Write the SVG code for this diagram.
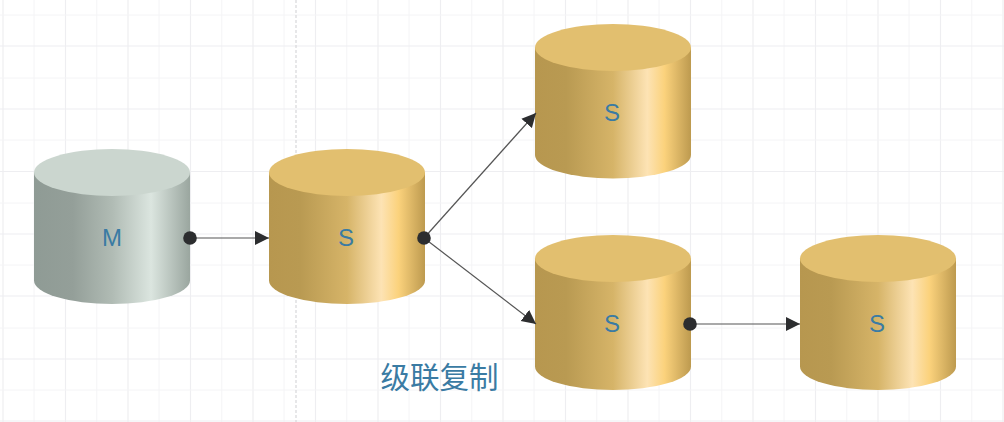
<svg xmlns="http://www.w3.org/2000/svg" width="1004" height="422" viewBox="0 0 1004 422">
<style>
.gm{stroke:#eeeef1;stroke-width:1.2;fill:none}
.gn{stroke:#f4f4f6;stroke-width:1;fill:none}
.lab{font-family:"Liberation Sans","Noto Sans CJK SC",sans-serif;font-size:24px;fill:#3a7ba3;text-anchor:middle}
.cap{font-family:"Noto Sans CJK SC","Liberation Sans",sans-serif;font-size:29.5px;fill:#3a7ba3;text-anchor:middle}
.link{stroke:#555555;stroke-width:1.2;fill:none;marker-end:url(#arr)}
.dot{fill:#2c2d2f}
.gold{fill:url(#goldSide)}
.goldTop{fill:#e2bf6f}
.grey{fill:url(#greySide)}
.greyTop{fill:#cbd6cf}
</style>
<defs>
<linearGradient id="goldSide" x1="0" x2="1" y1="0" y2="0">
<stop offset="0" stop-color="#b7974f"/><stop offset="0.2" stop-color="#b99a52"/><stop offset="0.5" stop-color="#d6b468"/><stop offset="0.72" stop-color="#fde3b4"/><stop offset="0.83" stop-color="#fbd27c"/><stop offset="1" stop-color="#bd9a4f"/>
</linearGradient>
<linearGradient id="greySide" x1="0" x2="1" y1="0" y2="0">
<stop offset="0" stop-color="#8f9b95"/><stop offset="0.25" stop-color="#949f99"/><stop offset="0.5" stop-color="#b0bbb4"/><stop offset="0.75" stop-color="#dbe5df"/><stop offset="1" stop-color="#9aa69f"/>
</linearGradient>
<marker id="arr" markerUnits="userSpaceOnUse" markerWidth="15" markerHeight="15" refX="14" refY="7.500" orient="auto">
<path d="M0 0.500L14 7.500L0 14.500Z" fill="#2c2d2f"/>
</marker>
</defs>
<rect width="1004" height="422" fill="#ffffff"/>
<g id="grid">
<path class="gn" d="M34 0V422M96.750 0V422M159 0V422M221.750 0V422M284 0V422M346.750 0V422M409 0V422M471.750 0V422M534 0V422M596.750 0V422M659 0V422M721.750 0V422M784 0V422M846.750 0V422M909 0V422M971.750 0V422"/>
<path class="gm" d="M3 0V422M65.500 0V422M128 0V422M190.500 0V422M253 0V422M315.500 0V422M378 0V422M440.500 0V422M503 0V422M565.500 0V422M628 0V422M690.500 0V422M753 0V422M815.500 0V422M878 0V422M940.500 0V422M1003 0V422"/>
<path class="gn" d="M0 15H1004M0 78H1004M0 140H1004M0 203H1004M0 265H1004M0 328H1004M0 390H1004"/>
<path class="gm" d="M0 46H1004M0 109H1004M0 171.500H1004M0 234H1004M0 296H1004M0 359H1004M0 421H1004"/>
<path d="M296 0V422" stroke="#d8d8da" stroke-width="1.2" stroke-dasharray="3 2" fill="none"/>
</g>
<g id="node-m">
<path class="grey" d="M34 172.500V280.500A78 23.500 0 0 0 190 280.500V172.500Z"/>
<ellipse class="greyTop" cx="112" cy="172.500" rx="78" ry="23.500"/>
<text class="lab" x="112" y="246">M</text>
</g>
<g id="node-s1">
<path class="gold" d="M269 172.500V280.500A78 23.500 0 0 0 425 280.500V172.500Z"/>
<ellipse class="goldTop" cx="347" cy="172.500" rx="78" ry="23.500"/>
<text class="lab" x="346" y="246">S</text>
</g>
<g id="node-s2">
<path class="gold" d="M535 47.500V155A78 23.500 0 0 0 691 155V47.500Z"/>
<ellipse class="goldTop" cx="613" cy="47.500" rx="78" ry="23.500"/>
<text class="lab" x="612" y="121">S</text>
</g>
<g id="node-s3">
<path class="gold" d="M535 258.500V366.500A78 23.500 0 0 0 691 366.500V258.500Z"/>
<ellipse class="goldTop" cx="613" cy="258.500" rx="78" ry="23.500"/>
<text class="lab" x="612" y="332">S</text>
</g>
<g id="node-s4">
<path class="gold" d="M800 258.500V366.500A78 23.500 0 0 0 956 366.500V258.500Z"/>
<ellipse class="goldTop" cx="878" cy="258.500" rx="78" ry="23.500"/>
<text class="lab" x="877" y="332">S</text>
</g>
<g id="connectors">
<path class="link" d="M190 238H269"/>
<path class="link" d="M424 238L536 113"/>
<path class="link" d="M424 238L536 324"/>
<path class="link" d="M690 324H800"/>
<circle class="dot" cx="190" cy="238" r="6.800"/>
<circle class="dot" cx="424" cy="238" r="6.800"/>
<circle class="dot" cx="690" cy="324" r="6.800"/>
</g>
<text class="cap" x="439.500" y="388">级联复制</text>
</svg>
